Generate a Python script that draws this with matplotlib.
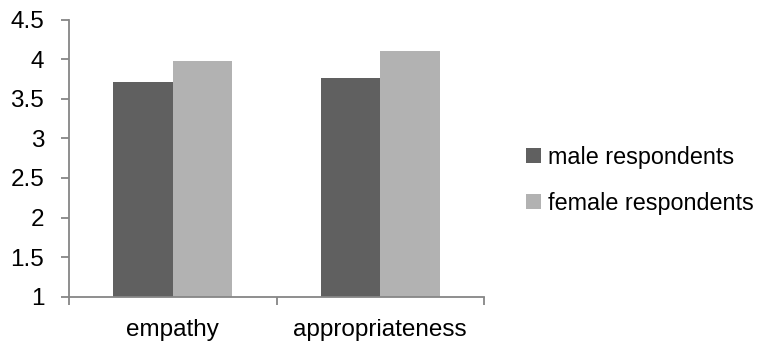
import numpy as np
import matplotlib.pyplot as plt

categories = ['empathy', 'appropriateness']
male = [3.71, 3.76]
female = [3.98, 4.10]
series_names = ['male respondents', 'female respondents']

plt.rcParams['font.family'] = ['Liberation Sans', 'DejaVu Sans']

fig = plt.figure(figsize=(7.67, 3.49), dpi=100)
ax = fig.add_axes([0.090, 0.150, 0.541, 0.7936])

x = np.arange(len(categories))
w = 0.2865
ax.bar(x - w / 2, male, w, bottom=0, color='#606060', label=series_names[0])
ax.bar(x + w / 2, female, w, bottom=0, color='#b2b2b2', label=series_names[1])

ax.set_xlim(-0.5, 1.5)
ax.set_ylim(1, 4.5)
ax.set_yticks(np.arange(1, 4.51, 0.5))
ax.set_yticklabels(['1', '1.5', '2', '2.5', '3', '3.5', '4', '4.5'])
ax.set_xticks(x)
ax.set_xticklabels(categories)
ax.set_xticks([-0.5, 0.5, 1.5], minor=True)

for s in ['top', 'right']:
    ax.spines[s].set_visible(False)
for s in ['left', 'bottom']:
    ax.spines[s].set_color('#868686')
    ax.spines[s].set_linewidth(1.3)

fs = 17.5
ax.tick_params(axis='y', length=5.8, width=1.3, color='#868686', pad=12, labelsize=fs)
ax.tick_params(axis='x', which='major', length=0, pad=16, labelsize=fs)
ax.tick_params(axis='x', which='minor', length=5.8, width=1.3, color='#868686')

fig.legend(loc='upper left', bbox_to_anchor=(0.686, 0.583), frameon=False,
           fontsize=16.8, handlelength=0.65, handleheight=0.65, handletextpad=0.3,
           labelspacing=1.0, borderaxespad=0, borderpad=0)

plt.savefig('out.png')
